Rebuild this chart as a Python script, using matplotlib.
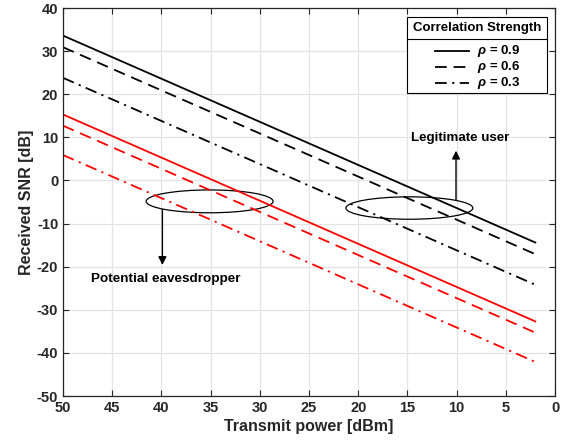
import matplotlib
matplotlib.use("Agg")
import matplotlib.pyplot as plt
from matplotlib.patches import Ellipse, Rectangle
from matplotlib.lines import Line2D

plt.rcParams['font.family'] = ['Liberation Sans', 'DejaVu Sans']
plt.rcParams['font.weight'] = 'bold'
plt.rcParams['axes.unicode_minus'] = False
plt.rcParams['mathtext.fontset'] = 'custom'
plt.rcParams['mathtext.it'] = 'Liberation Sans:italic:bold'
plt.rcParams['mathtext.rm'] = 'Liberation Sans:bold'

power = [50, 40, 30, 20, 10, 2]
legit_09 = [33.6, 23.6, 13.6, 3.6, -6.4, -14.4]
legit_06 = [30.9, 20.9, 10.9, 0.9, -9.1, -17.1]
legit_03 = [23.8, 13.8, 3.8, -6.2, -16.2, -24.2]
eve_09 = [15.3, 5.3, -4.7, -14.7, -24.7, -32.7]
eve_06 = [12.7, 2.7, -7.3, -17.3, -27.3, -35.3]
eve_03 = [5.9, -4.1, -14.1, -24.1, -34.1, -42.1]
rho_labels = [r'$\rho$ = 0.9', r'$\rho$ = 0.6', r'$\rho$ = 0.3']
legend_title = 'Correlation Strength'
xticks = [50, 45, 40, 35, 30, 25, 20, 15, 10, 5, 0]
yticks = [-50, -40, -30, -20, -10, 0, 10, 20, 30, 40]

W, H = 569, 445
fig = plt.figure(figsize=(W/100, H/100), dpi=100)
ax = fig.add_axes([63/W, 1-396/H, (555-63)/W, (396-8)/H])

def px(x, y):
    return (x / W, 1 - y / H)

styles = ['-', (0, (6.5, 3.8)), (0, (6.5, 3, 1.2, 3))]
lw = 1.3
for ys, ls in zip([legit_09, legit_06, legit_03], styles):
    ax.plot(power, ys, color='black', linestyle=ls, linewidth=lw)
for ys, ls in zip([eve_09, eve_06, eve_03], styles):
    ax.plot(power, ys, color='red', linestyle=ls, linewidth=lw)

ax.set_xlim(50, 0)
ax.set_ylim(-50, 40)
ax.set_xticks(xticks)
ax.set_yticks(yticks)
ax.grid(True, color='#e3e3e3', linewidth=0.9)
ax.set_axisbelow(True)
ax.tick_params(direction='in', top=True, right=True, length=4, labelsize=10.5, colors='#262626', width=0.8)
for lab in ax.get_xticklabels() + ax.get_yticklabels():
    lab.set_fontweight('bold')
for s in ax.spines.values():
    s.set_color('#262626')
    s.set_linewidth(0.9)
ax.set_xlabel('Transmit power [dBm]', fontsize=11.5, fontweight='bold', color='#262626', labelpad=3)
ax.set_ylabel('Received SNR [dB]', fontsize=11.5, fontweight='bold', color='#262626', labelpad=2)

# ellipses and arrows
ax.add_patch(Ellipse((35.1, -4.85), 12.9, 5.3, fill=False, edgecolor='black', linewidth=0.9))
ax.add_patch(Ellipse((14.8, -6.4), 12.9, 5.2, fill=False, edgecolor='black', linewidth=0.9))
ax.annotate('', xy=(39.9, -19.6), xytext=(39.9, -6.8),
            arrowprops=dict(arrowstyle='-|>', color='black', lw=1.0, mutation_scale=12, shrinkA=0, shrinkB=0))
ax.annotate('', xy=(10.06, 6.9), xytext=(10.06, -4.5),
            arrowprops=dict(arrowstyle='-|>', color='black', lw=1.0, mutation_scale=12, shrinkA=0, shrinkB=0))
ax.text(39.6, -22.9, 'Potential eavesdropper', ha='center', va='center', fontsize=9.7, fontweight='bold')
ax.text(9.6, 9.8, 'Legitimate user', ha='center', va='center', fontsize=9.6, fontweight='bold')

# legend (MATLAB style with title separator)
bx0, by0, bx1, by1 = 407.3, 16.7, 546.7, 93.3
x0, y0 = px(bx0, by1)
x1, y1 = px(bx1, by0)
fig.add_artist(Rectangle((x0, y0), x1 - x0, y1 - y0, transform=fig.transFigure,
                         facecolor='white', edgecolor='black', linewidth=0.8, zorder=5))
fig.text(*px((bx0 + bx1) / 2, 28.5), legend_title, ha='center', va='center',
         fontsize=9.5, fontweight='bold', zorder=6)
sx0, sy = px(bx0, 39)
sx1, _ = px(bx1, 39)
fig.add_artist(Line2D([sx0, sx1], [sy, sy], color='black', linewidth=0.8, transform=fig.transFigure, zorder=6))
row_y = [50.7, 66.7, 82.7]
for ry, ls, lab in zip(row_y, styles, rho_labels):
    hx0, hy = px(435, ry)
    hx1, _ = px(468.5, ry)
    fig.add_artist(Line2D([hx0, hx1], [hy, hy], color='black', linestyle=ls, linewidth=lw,
                          transform=fig.transFigure, zorder=6))
    fig.text(*px(477, ry), lab, ha='left', va='center', fontsize=9.5, fontweight='bold', zorder=6)

fig.savefig('out.png', dpi=100)
